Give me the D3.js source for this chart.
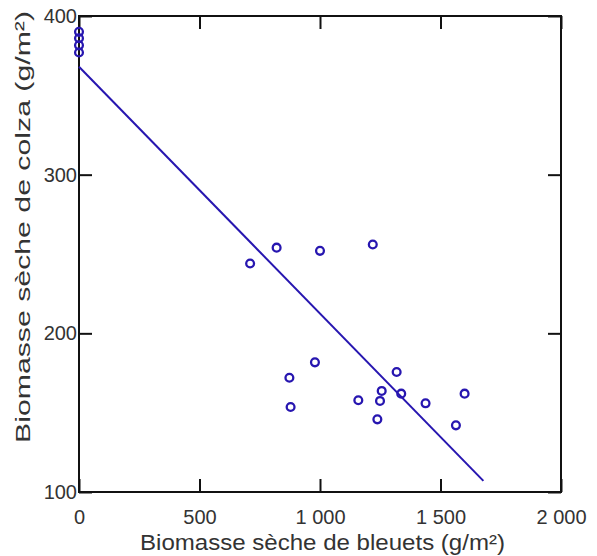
<!DOCTYPE html>
<html>
<head>
<meta charset="utf-8">
<script src="https://cdn.jsdelivr.net/npm/d3@7"></script>
<style>
  body { margin: 0; background: #fff; }
  text { font-family: "Liberation Sans", Arial, sans-serif; fill: #333; }
</style>
</head>
<body>
<svg id="chart" width="597" height="556"></svg>
<script>
// biomasse sèche de bleuets (x) vs colza (y), g/m²
const bleuets = [0, 0, 0, 0, 710, 820, 1000, 1219, 979, 873, 878, 1159, 1256, 1249, 1238, 1318, 1337, 1438, 1600, 1564];
const colza = [390, 386, 381.5, 377, 244, 254, 252, 256, 181.7, 172, 153.6, 157.8, 163.7, 157.4, 145.8, 175.6, 162, 155.9, 162, 142];
const trendX = [0, 1678];
const trendY = [368, 107];
const xTicks = [0, 500, 1000, 1500, 2000];
const yTicks = [100, 200, 300, 400];

const svg = d3.select('#chart');
const margin = { top: 16, right: 36, bottom: 64, left: 79 };
const width = 597 - margin.left - margin.right;
const height = 556 - margin.top - margin.bottom;
const ink = '#111';
const blue = '#2716b0';

const fr = d3.formatLocale({ decimal: ',', thousands: '\u00a0', grouping: [3], currency: ['', ' €'] });
const fmt = fr.format(',d');

const xScale = d3.scaleLinear().domain([0, 2000]).range([0, width]);
const yScale = d3.scaleLinear().domain([100, 400]).range([height, 0]);

const g = svg.append('g').attr('transform', `translate(${margin.left},${margin.top})`);

// ticks inside on all four sides
const tickLen = 13;
const styleAxis = (sel) => {
    sel.select('.domain').remove();
    sel.selectAll('.tick line').attr('stroke', ink).attr('stroke-width', 2);
    sel.selectAll('.tick text').attr('font-size', 20).attr('fill', '#333')
        .attr('font-family', '"Liberation Sans", Arial, sans-serif');
};

g.append('g')
    .attr('transform', `translate(0,${height})`)
    .call(d3.axisBottom(xScale).tickValues(xTicks).tickFormat(fmt).tickSizeInner(-tickLen).tickPadding(18))
    .call(styleAxis);

g.append('g')
    .call(d3.axisTop(xScale).tickValues(xTicks).tickFormat('').tickSizeInner(-tickLen))
    .call(styleAxis);

g.append('g')
    .call(d3.axisLeft(yScale).tickValues(yTicks).tickFormat(fmt).tickSizeInner(-tickLen).tickPadding(2))
    .call(styleAxis);

g.append('g')
    .attr('transform', `translate(${width},0)`)
    .call(d3.axisRight(yScale).tickValues(yTicks).tickFormat('').tickSizeInner(-tickLen))
    .call(styleAxis);

// frame
g.append('rect')
    .attr('width', width)
    .attr('height', height)
    .attr('fill', 'none')
    .attr('stroke', ink)
    .attr('stroke-width', 2);

// trend line
const line = d3.line().x(d => xScale(d[0])).y(d => yScale(d[1]));
g.append('path')
    .datum(d3.zip(trendX, trendY))
    .attr('d', line)
    .attr('fill', 'none')
    .attr('stroke', blue)
    .attr('stroke-width', 2);

// points
g.selectAll('circle.pt')
    .data(d3.zip(bleuets, colza))
    .enter()
    .append('circle')
    .attr('class', 'pt')
    .attr('cx', d => xScale(d[0]))
    .attr('cy', d => yScale(d[1]))
    .attr('r', 3.9)
    .attr('fill', 'none')
    .attr('stroke', blue)
    .attr('stroke-width', 2.3);

// axis titles (stretched like the source image)
svg.append('text')
    .attr('x', 140)
    .attr('y', 550)
    .attr('font-size', 22)
    .attr('textLength', 365)
    .attr('lengthAdjust', 'spacingAndGlyphs')
    .text('Biomasse sèche de bleuets (g/m²)');

svg.append('text')
    .attr('transform', 'translate(30,443) rotate(-90)')
    .attr('font-size', 21)
    .attr('textLength', 432)
    .attr('lengthAdjust', 'spacingAndGlyphs')
    .text('Biomasse sèche de colza (g/m²)');
</script>
</body>
</html>
